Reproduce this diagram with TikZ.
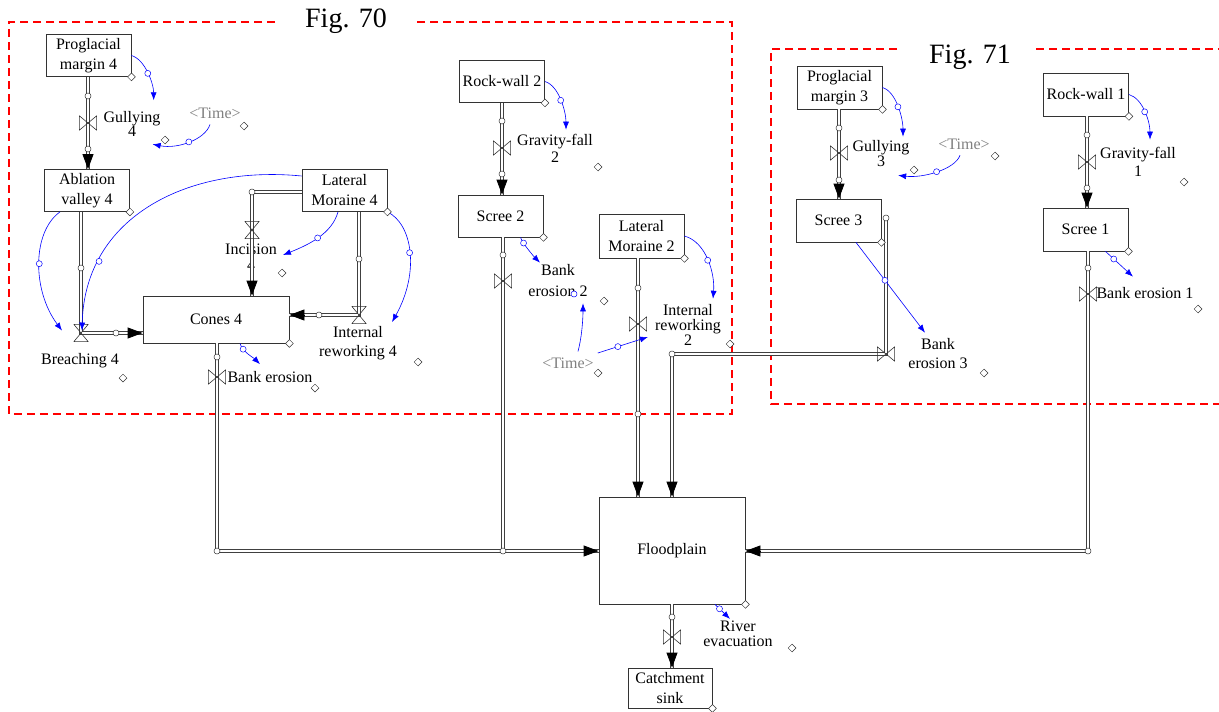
\documentclass[tikz,border=0pt]{standalone}
\usepackage{fontspec}
\setmainfont{Liberation Serif}
\usetikzlibrary{shapes.geometric, arrows.meta}

\begin{document}
\begin{tikzpicture}[
    x=1pt, y=-1pt,
    stock/.style={rectangle, draw=black!80, line width=0.8pt, fill=white, align=center, inner sep=0pt, minimum width=85pt, minimum height=42pt, font=\fontsize{16}{20}\selectfont},
    pipe/.style={draw=black!75, line width=0.8pt, double=white, double distance=2.4pt},
    flowhead/.style={-{Triangle[length=15pt, width=11pt]}, line width=0.8pt, black},
    valveh/.style={rectangle, minimum width=18pt, minimum height=15pt, inner sep=0pt, outer sep=0pt,
        path picture={\draw[black!80, line width=0.6pt]
            ([shift={(0.4pt,-0.4pt)}]path picture bounding box.north west) -- ([shift={(0.4pt,0.4pt)}]path picture bounding box.south west) -- (path picture bounding box.center) -- cycle
            ([shift={(-0.4pt,-0.4pt)}]path picture bounding box.north east) -- ([shift={(-0.4pt,0.4pt)}]path picture bounding box.south east) -- (path picture bounding box.center) -- cycle;}},
    valvev/.style={rectangle, minimum width=15pt, minimum height=18pt, inner sep=0pt, outer sep=0pt,
        path picture={\draw[black!80, line width=0.6pt]
            ([shift={(0.4pt,-0.4pt)}]path picture bounding box.north west) -- ([shift={(-0.4pt,-0.4pt)}]path picture bounding box.north east) -- (path picture bounding box.center) -- cycle
            ([shift={(0.4pt,0.4pt)}]path picture bounding box.south west) -- ([shift={(-0.4pt,0.4pt)}]path picture bounding box.south east) -- (path picture bounding box.center) -- cycle;}},
    hnd/.style={circle, draw=black!80, fill=white, line width=0.5pt, minimum size=6pt, inner sep=0pt},
    bhnd/.style={hnd, draw=blue},
    dia/.style={diamond, draw=black!80, fill=white, line width=0.5pt, minimum size=8pt, inner sep=0pt},
    link/.style={draw=blue, line width=0.6pt, -{Latex[length=8pt, width=6pt]}},
    lbl/.style={align=center, inner sep=0pt, font=\fontsize{16}{17}\selectfont},
    timelbl/.style={lbl, text=black!50},
    figlbl/.style={inner sep=0pt, font=\fontsize{28}{30}\selectfont},
    figbox/.style={draw=red, line width=1.2pt, dash pattern=on 8pt off 5pt}
]
    \useasboundingbox (0,0) rectangle (1219,712);

    % frames
    \node[figlbl] (fig70) at (346,21) {Fig. 70};
    \node[figlbl] (fig71) at (970,57) {Fig. 71};
    \draw[figbox] (275,22) -- (9,22) -- (9,414) -- (732,414) -- (732,22) -- (413,22);
    \draw[figbox] (897,49) -- (771,49) -- (771,404) -- (1225,404);
    \draw[figbox] (1036,49) -- (1225,49);

    % stocks
    \node[stock] (pm4) at (88.5,55.5) {Proglacial\\margin 4};
    \node[stock] (abl4) at (87,190.5) {Ablation\\valley 4};
    \node[stock] (lm4) at (344.5,190.5) {Lateral\\Moraine 4};
    \node[stock, minimum width=146pt, minimum height=47pt] (cones4) at (216,319.5) {Cones 4};
    \node[stock] (rw2) at (502,81.5) {Rock-wall 2};
    \node[stock] (scree2) at (500.5,216) {Scree 2};
    \node[stock, minimum height=44pt] (lm2) at (641.5,236) {Lateral\\Moraine 2};
    \node[stock, minimum height=43pt] (pm3) at (839.5,87.5) {Proglacial\\margin 3};
    \node[stock, minimum height=43pt] (scree3) at (838.5,220.5) {Scree 3};
    \node[stock, minimum height=43pt] (rw1) at (1086,94.5) {Rock-wall 1};
    \node[stock, minimum height=43pt] (scree1) at (1085.5,229.5) {Scree 1};
    \node[stock, minimum width=146pt, minimum height=107pt] (flood) at (672,550.5) {Floodplain};
    \node[stock, minimum width=84pt, minimum height=40pt] (sink) at (670,688) {Catchment\\sink};

    % flow labels
    \node[lbl] (gul4l) at (132,124) {Gullying\\[-3pt]4};
    \node[timelbl] (time4) at (215,113) {\textless Time\textgreater};
    \node[lbl] (brc4l) at (80,361) {Breaching 4};
    \node[lbl] (inc4l) at (251,257) {Incision\\[-1pt]4};
    \node[lbl] (irw4l) at (358,343) {Internal\\[2pt]reworking 4};
    \node[lbl] (bnk4l) at (270,377) {Bank erosion};
    \node[lbl] (grv2l) at (555,148) {Gravity-fall\\2};
    \node[lbl] (bnk2l) at (558,281) {Bank\\[4pt]erosion 2};
    \node[timelbl] (time2) at (568,363) {\textless Time\textgreater};
    \node[lbl] (irw2l) at (688,325) {Internal\\[-2pt]reworking\\[-2pt]2};
    \node[lbl] (bnk3l) at (938,354) {Bank\\[2pt]erosion 3};
    \node[lbl] (gul3l) at (881,154) {Gullying\\[-2pt]3};
    \node[timelbl] (time3) at (964,144) {\textless Time\textgreater};
    \node[lbl] (grv1l) at (1138,162) {Gravity-fall\\[1pt]1};
    \node[lbl] (bnk1l) at (1145,293) {Bank erosion 1};
    \node[lbl] (rivl) at (738,634) {River\\[-2pt]evacuation};

    % Gullying 4
    \coordinate (gul4) at (88,123);
    \draw[pipe] (pm4.south -| gul4) -- (abl4.north -| gul4);
    \draw[flowhead] (abl4.north -| gul4) ++(0,-15) -- (abl4.north -| gul4);
    \node[valveh] (gul4v) at (gul4) {};
    \node[hnd] (gul4a) at (88,96) {};
    \node[hnd] (gul4b) at (88,149) {};

    % Breaching 4
    \coordinate (brc4) at (81,333);
    \draw[pipe] (abl4.south -| brc4) -- (brc4) -- (cones4.west |- brc4);
    \draw[flowhead] (cones4.west |- brc4) ++(-15,0) -- (cones4.west |- brc4);
    \node[valvev] (brc4v) at (brc4) {};
    \node[hnd] (brc4a) at (81,268) {};
    \node[hnd] (brc4b) at (116,333) {};

    % Incision
    \coordinate (inc4) at (252,192);
    \draw[pipe] (lm4.west |- inc4) -- (inc4) -- (cones4.north -| inc4);
    \draw[flowhead] (cones4.north -| inc4) ++(0,-15) -- (cones4.north -| inc4);
    \node[valvev] (inc4v) at (252,230) {};
    \node[hnd] (inc4a) at (inc4) {};

    % Internal reworking 4
    \coordinate (irw4) at (359,315);
    \draw[pipe] (lm4.south -| irw4) -- (irw4) -- (cones4.east |- irw4);
    \draw[flowhead] (cones4.east |- irw4) ++(15,0) -- (cones4.east |- irw4);
    \node[valvev] (irw4v) at (irw4) {};
    \node[hnd] (irw4a) at (359,259) {};
    \node[hnd] (irw4b) at (319,315) {};

    % Bank erosion, Bank erosion 2
    \coordinate (bnk4) at (217,551);
    \coordinate (bnk2) at (503,551);
    \draw[pipe] (scree2.south -| bnk2) -- (bnk2);
    \draw[pipe] (cones4.south -| bnk4) -- (bnk4) -- (flood.west |- bnk4);
    \draw[flowhead] (flood.west |- bnk4) ++(-15,0) -- (flood.west |- bnk4);
    \node[valveh] (bnk4v) at (217,377) {};
    \node[hnd] (bnk4a) at (217,357) {};
    \node[hnd] (bnk4b) at (bnk4) {};
    \node[valveh] (bnk2v) at (503,281) {};
    \node[hnd] (bnk2a) at (503,255) {};
    \node[hnd] (bnk2b) at (bnk2) {};

    % Gravity-fall 2
    \coordinate (grv2) at (502,148);
    \draw[pipe] (rw2.south -| grv2) -- (scree2.north -| grv2);
    \draw[flowhead] (scree2.north -| grv2) ++(0,-15) -- (scree2.north -| grv2);
    \node[valveh] (grv2v) at (grv2) {};
    \node[hnd] (grv2a) at (502,121) {};
    \node[hnd] (grv2b) at (502,174) {};

    % Internal reworking 2
    \coordinate (irw2) at (638,324);
    \draw[pipe] (lm2.south -| irw2) -- (flood.north -| irw2);
    \draw[flowhead] (flood.north -| irw2) ++(0,-15) -- (flood.north -| irw2);
    \node[valveh] (irw2v) at (irw2) {};
    \node[hnd] (irw2a) at (638,288) {};
    \node[hnd] (irw2b) at (638,414) {};

    % Bank erosion 3
    \coordinate (bnk3s) at (886,218);
    \coordinate (bnk3) at (886,354);
    \coordinate (bnk3c) at (672,354);
    \draw[pipe] (bnk3s) -- (bnk3) -- (bnk3c) -- (flood.north -| bnk3c);
    \draw[flowhead] (flood.north -| bnk3c) ++(0,-15) -- (flood.north -| bnk3c);
    \node[valveh] (bnk3v) at (bnk3) {};
    \node[hnd] (bnk3a) at (bnk3s) {};
    \node[hnd] (bnk3b) at (bnk3c) {};

    % Gullying 3
    \coordinate (gul3) at (839,153);
    \draw[pipe] (pm3.south -| gul3) -- (scree3.north -| gul3);
    \draw[flowhead] (scree3.north -| gul3) ++(0,-15) -- (scree3.north -| gul3);
    \node[valveh] (gul3v) at (gul3) {};
    \node[hnd] (gul3a) at (839,128) {};
    \node[hnd] (gul3b) at (839,180) {};

    % Gravity-fall 1
    \coordinate (grv1) at (1087,162);
    \draw[pipe] (rw1.south -| grv1) -- (scree1.north -| grv1);
    \draw[flowhead] (scree1.north -| grv1) ++(0,-15) -- (scree1.north -| grv1);
    \node[valveh] (grv1v) at (grv1) {};
    \node[hnd] (grv1a) at (1087,135) {};
    \node[hnd] (grv1b) at (1087,188) {};

    % Bank erosion 1
    \coordinate (bnk1) at (1088,551);
    \draw[pipe] (scree1.south -| bnk1) -- (bnk1) -- (flood.east |- bnk1);
    \draw[flowhead] (flood.east |- bnk1) ++(15,0) -- (flood.east |- bnk1);
    \node[valveh] (bnk1v) at (1088,294) {};
    \node[hnd] (bnk1a) at (1088,268) {};
    \node[hnd] (bnk1b) at (bnk1) {};

    % River evacuation
    \coordinate (riv) at (672,637);
    \draw[pipe] (flood.south -| riv) -- (sink.north -| riv);
    \draw[flowhead] (sink.north -| riv) ++(0,-15) -- (sink.north -| riv);
    \node[valveh] (rivv) at (riv) {};
    \node[hnd] (riva) at (672,617) {};

    % information links
    \draw[link] (pm4.east) .. controls +(14,4) and +(0,-16) .. ([shift={(-7pt,11pt)}]gul4l.north east) node[bhnd, pos=.5] (l1) {};
    \draw[link] ([shift={(-5pt,-6pt)}]time4.south) .. controls +(-5,15) and +(25,5) .. ([shift={(-8pt,-7.5pt)}]gul4l.south east) node[bhnd, pos=.5] (l2) {};
    \draw[link] ([xshift=-27pt]abl4.south) .. controls +(-28,20) and +(-30,-40) .. ([shift={(-18pt,23pt)}]brc4l.north) node[bhnd, pos=.5] (l3) {};
    \draw[link] ([yshift=14.5pt]lm4.west) .. controls +(-112,-11) and +(3,-115) .. ([shift={(2pt,23pt)}]brc4l.north) node[bhnd, pos=.77] (l4) {};
    \draw[link] ([xshift=-6.5pt]lm4.south) .. controls +(-6,22) and +(25,-10) .. ([shift={(6pt,2pt)}]inc4l.east) node[bhnd, pos=.5] (l5) {};
    \draw[link] (lm4.south east) .. controls +(25,12) and +(28,-50) .. ([shift={(-5pt,4pt)}]irw4l.north east) node[bhnd, pos=.5] (l6) {};
    \draw[link] ([xshift=24pt]cones4.south) .. controls +(2,8) and +(-6,-6) .. ([shift={(-10pt,7pt)}]bnk4l.north) node[bhnd, pos=.25] (l7) {};
    \draw[link] (rw2.east) .. controls +(14,4) and +(0,-18) .. ([shift={(11pt,4pt)}]grv2l.north) node[bhnd, pos=.5] (l8) {};
    \draw[link] ([xshift=20pt]scree2.south) .. controls +(2,6) and +(-6,-6) .. ([shift={(-18pt,2pt)}]bnk2l.north) node[bhnd, pos=.25] (l9) {};
    \draw[link] ([shift={(10pt,6pt)}]time2.north) .. controls +(4,-15) and +(0,15) .. ([shift={(25pt,-6pt)}]bnk2l.south);
    \node[bhnd] (bnk2h) at (574,294) {};
    \draw[link] ([shift={(4pt,10pt)}]time2.east) -- ([shift={(-7pt,-12pt)}]irw2l.west) node[bhnd, pos=.4] (l11) {};
    \draw[link] (lm2.east) .. controls +(22,6) and +(2,-25) .. ([shift={(25pt,5.5pt)}]irw2l.north) node[bhnd, pos=.5] (l12) {};
    \draw[link] (pm3.east) .. controls +(14,4) and +(0,-18) .. ([shift={(22pt,4pt)}]gul3l.north) node[bhnd, pos=.5] (l13) {};
    \draw[link] ([shift={(-4pt,-5.75pt)}]time3.south) .. controls +(-5,14) and +(25,3) .. ([shift={(-11.5pt,-8pt)}]gul3l.south east) node[bhnd, pos=.5] (l14) {};
    \draw[link] ([xshift=17.5pt]scree3.south) -- ([shift={(-13pt,6pt)}]bnk3l.north) node[bhnd, pos=.42] (l15) {};
    \draw[link] (rw1.east) .. controls +(14,4) and +(0,-18) .. ([shift={(12pt,7.5pt)}]grv1l.north) node[bhnd, pos=.5] (l16) {};
    \draw[link] ([xshift=20pt]scree1.south) -- ([shift={(-12pt,10.5pt)}]bnk1l.north) node[bhnd, pos=.3] (l17) {};
    \draw[link] ([xshift=43pt]flood.south) -- ([shift={(-8pt,2pt)}]rivl.north) node[bhnd, pos=.3] (l18) {};

    % corner markers
    \node[dia] (pm4d) at (pm4.south east) {};
    \node[dia] (abl4d) at (abl4.south east) {};
    \node[dia] (lm4d) at (lm4.south east) {};
    \node[dia] (cones4d) at (cones4.south east) {};
    \node[dia] (rw2d) at (rw2.south east) {};
    \node[dia] (scree2d) at (scree2.south east) {};
    \node[dia] (lm2d) at (lm2.south east) {};
    \node[dia] (pm3d) at (pm3.south east) {};
    \node[dia] (scree3d) at (scree3.south east) {};
    \node[dia] (rw1d) at (rw1.south east) {};
    \node[dia] (scree1d) at (scree1.south east) {};
    \node[dia] (floodd) at (flood.south east) {};
    \node[dia] (sinkd) at (sink.south east) {};
    \node[dia] (gul4d) at (165,140) {};
    \node[dia] (time4d) at (244,126) {};
    \node[dia] (brc4d) at (123,378) {};
    \node[dia] (inc4d) at (282,273) {};
    \node[dia] (irw4d) at (418,362) {};
    \node[dia] (bnk4d) at (315,388) {};
    \node[dia] (grv2d) at (598,167) {};
    \node[dia] (bnk2d) at (604,301) {};
    \node[dia] (time2d) at (598,373) {};
    \node[dia] (irw2d) at (730,344) {};
    \node[dia] (bnk3d) at (984,373) {};
    \node[dia] (gul3d) at (914,170) {};
    \node[dia] (time3d) at (995,156) {};
    \node[dia] (grv1d) at (1184,182) {};
    \node[dia] (bnk1d) at (1198,309) {};
    \node[dia] (rivd) at (792,648) {};
\end{tikzpicture}
\end{document}
